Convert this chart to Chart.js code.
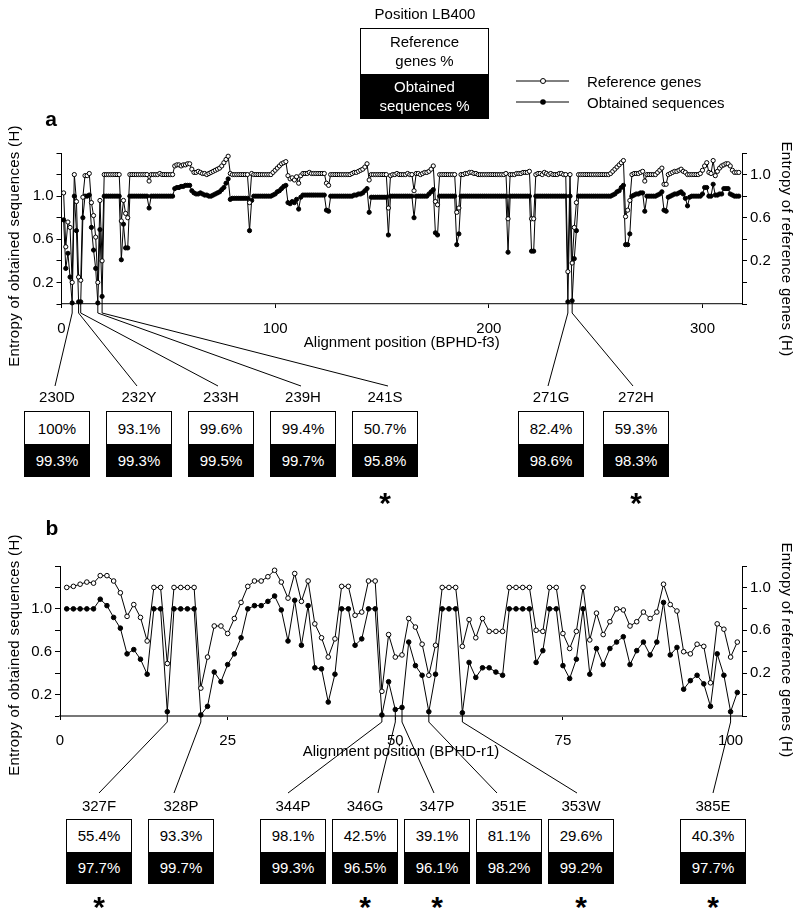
<!DOCTYPE html>
<html>
<head>
<meta charset="utf-8">
<script src="https://cdn.jsdelivr.net/npm/chart.js@4.4.1/dist/chart.umd.min.js"></script>
<style>
  body { margin: 0; background: #fff; }
  #page { position: relative; width: 800px; height: 911px; overflow: hidden; font-family: "Liberation Sans", Arial, Helvetica, sans-serif; color: #000; }
  canvas { position: absolute; left: 0; }
  .txt { position: absolute; font-size: 15px; white-space: nowrap; transform: translate(-50%, -50%); line-height: 1; }
  .ytitle { position: absolute; font-size: 15px; white-space: nowrap; letter-spacing: 0.3px; line-height: 1; }
  .box { position: absolute; width: 64px; border: 1px solid #000; background: #fff; }
  .box div { height: 50%; display: flex; align-items: center; justify-content: center; font-size: 15px; }
  .box .lo { background: #000; color: #fff; }
  .star { position: absolute; font-size: 30px; font-weight: bold; transform: translate(-50%, -50%); line-height: 1; }
  .panel { position: absolute; font-size: 21px; font-weight: bold; transform: translate(-50%, -50%); line-height: 1; }
  #hdr { position: absolute; left: 360px; top: 28px; width: 127px; height: 89px; border: 1px solid #000; }
  #hdr div { height: 50%; display: flex; align-items: center; justify-content: center; text-align: center; font-size: 15px; line-height: 19px; }
  #hdr .lo { background: #000; color: #fff; }
</style>
</head>
<body>
<div id="page">
  <canvas id="chartA" width="800" height="520" style="top:0"></canvas>
  <canvas id="chartB" width="800" height="300" style="top:520px"></canvas>

  <div class="txt" style="left:425px;top:13px">Position LB400</div>
  <div id="hdr"><div>Reference<br>genes %</div><div class="lo">Obtained<br>sequences %</div></div>
  <svg style="position:absolute;left:510px;top:70px" width="70" height="45">
    <line x1="6" y1="11" x2="59" y2="11" stroke="#000" stroke-width="1"/>
    <circle cx="33" cy="11" r="2.5" fill="#fff" stroke="#000" stroke-width="1"/>
    <line x1="6" y1="32" x2="59" y2="32" stroke="#000" stroke-width="1"/>
    <circle cx="33" cy="32" r="2.8" fill="#000"/>
  </svg>
  <div class="txt" style="left:587px;top:81px;transform:translate(0,-50%)">Reference genes</div>
  <div class="txt" style="left:587px;top:102px;transform:translate(0,-50%)">Obtained sequences</div>

  <div class="panel" style="left:51px;top:118px">a</div>
  <div class="panel" style="left:52px;top:527px">b</div>

  <div class="ytitle" style="left:12.5px;top:246px;transform:translate(-50%,-50%) rotate(-90deg)">Entropy of obtained sequences (H)</div>
  <div class="ytitle" style="left:787px;top:249px;transform:translate(-50%,-50%) rotate(90deg)">Entropy of reference genes (H)</div>
  <div class="ytitle" style="left:12.5px;top:655px;transform:translate(-50%,-50%) rotate(-90deg)">Entropy of obtained sequences (H)</div>
  <div class="ytitle" style="left:787px;top:650px;transform:translate(-50%,-50%) rotate(90deg)">Entropy of reference genes (H)</div>
</div>

<script>
const FONT = '"Liberation Sans", Arial, Helvetica, sans-serif';

// Panel a: entropy per alignment position (BPHD-f3), positions 1..317
const refA = [
  0.83,0.33,0.56,0.51,0.00,1.00,0.75,0.05,0.02,0.79,
  0.99,0.99,1.01,0.74,0.62,0.42,0.00,0.76,0.20,1.00,
  1.00,1.00,1.00,1.00,1.00,1.00,1.00,0.57,0.76,0.64,
  0.60,1.00,1.00,1.00,1.00,1.00,1.00,1.00,1.00,1.00,
  0.94,1.00,1.00,1.00,1.00,1.01,1.00,1.00,1.00,1.00,
  1.00,1.00,1.08,1.09,1.09,1.08,1.09,1.09,1.10,1.10,
  1.05,1.02,1.02,1.03,1.02,1.01,1.01,1.00,1.01,1.02,
  1.03,1.04,1.05,1.06,1.08,1.11,1.14,1.17,1.01,1.00,
  1.00,1.00,1.00,1.00,1.00,1.00,1.00,0.74,1.01,1.00,
  1.00,1.00,1.00,1.00,1.00,1.00,1.00,1.00,1.02,1.04,
  1.06,1.08,1.10,1.11,1.12,0.99,0.96,0.97,0.95,0.98,
  0.92,0.99,1.01,1.01,1.01,1.02,1.01,1.01,1.01,1.01,
  1.01,1.01,1.01,0.92,0.90,1.00,1.00,1.00,1.00,1.00,
  1.00,1.00,1.00,1.00,1.00,1.01,1.02,1.02,1.03,1.04,
  1.05,1.07,1.10,0.95,1.00,1.00,1.00,1.00,1.00,1.00,
  1.00,1.00,0.69,0.99,1.00,1.00,1.01,1.00,1.00,1.00,
  1.00,1.01,1.00,1.00,0.85,1.01,1.01,1.00,1.01,1.02,
  1.02,1.03,1.05,1.08,0.75,0.72,1.00,1.00,1.00,1.00,
  1.00,1.00,1.00,1.00,0.65,0.69,1.00,1.00,1.01,1.01,
  1.02,1.02,1.01,1.01,1.00,1.00,1.00,1.00,1.00,1.00,
  1.00,1.00,1.00,1.00,1.00,1.00,1.00,1.01,0.59,1.00,
  1.00,1.00,1.01,1.01,1.01,1.02,1.02,1.02,1.03,0.59,
  0.59,1.00,1.01,1.01,1.00,1.02,1.01,1.00,1.01,1.00,
  1.00,1.00,1.01,1.01,1.00,1.00,0.10,1.00,0.18,0.51,
  0.74,1.00,1.00,1.00,1.00,1.00,1.00,1.00,1.00,1.00,
  1.00,1.00,1.00,1.00,1.00,1.00,1.01,1.03,1.05,1.07,
  1.09,1.11,1.13,0.61,0.67,0.76,1.00,1.01,1.01,1.01,
  1.02,1.03,0.94,1.00,1.00,1.00,1.00,1.00,1.02,1.04,
  1.06,0.91,0.91,1.00,1.01,1.02,1.03,1.03,1.04,1.05,
  1.03,1.02,1.00,1.00,1.00,1.00,1.00,1.00,1.01,1.04,
  1.08,1.11,1.02,1.01,1.13,0.99,1.03,1.06,1.08,1.09,
  1.10,1.10,1.08,1.04,1.02,1.02,1.02
];
const obtA = [
  0.78,0.33,0.47,0.25,0.01,1.00,0.68,0.02,0.02,0.80,
  1.00,1.00,1.01,0.71,0.50,0.33,0.01,0.69,0.07,1.00,
  1.00,1.00,1.00,1.00,1.00,1.00,1.00,0.41,0.74,0.52,
  0.52,1.00,1.00,1.00,1.00,1.00,1.00,1.00,1.00,1.00,
  0.89,1.00,1.00,1.00,1.00,1.00,1.00,1.00,1.00,1.00,
  1.00,1.00,1.07,1.08,1.08,1.09,1.09,1.10,1.10,1.10,
  1.05,1.03,1.02,1.02,1.03,1.02,1.01,1.01,1.00,1.00,
  1.01,1.02,1.03,1.04,1.06,1.08,1.12,1.16,0.97,0.98,
  0.98,0.98,0.98,0.98,0.98,0.98,0.98,0.68,0.96,1.00,
  1.00,1.00,1.00,1.00,1.00,1.00,1.00,1.00,1.01,1.02,
  1.04,1.05,1.07,1.09,1.10,0.94,0.93,0.95,0.94,0.97,
  0.88,0.99,1.01,1.01,1.01,1.01,1.01,1.01,1.01,1.01,
  1.01,1.01,1.01,0.87,0.86,1.00,1.00,1.00,1.00,1.00,
  1.00,1.00,1.00,1.00,1.00,1.00,1.01,1.01,1.02,1.02,
  1.03,1.05,1.07,0.85,0.99,0.99,0.99,0.99,0.99,0.99,
  0.99,0.99,0.64,1.00,1.00,1.00,1.00,1.00,1.00,1.00,
  1.00,1.00,1.00,1.00,0.80,1.00,1.00,1.00,1.00,1.00,
  1.00,1.02,1.04,1.06,0.66,0.64,1.00,1.00,1.00,1.00,
  1.00,1.00,1.00,1.00,0.55,0.65,1.00,1.00,1.00,1.00,
  1.00,1.00,1.00,1.00,1.00,1.00,1.00,1.00,1.00,1.00,
  1.00,1.00,1.00,1.00,1.00,1.00,1.00,1.00,0.48,1.00,
  1.00,1.00,1.00,1.00,1.00,1.00,1.00,1.00,1.00,0.49,
  0.49,1.00,1.00,1.00,1.00,1.00,1.00,1.00,1.00,1.00,
  1.00,1.00,1.00,1.00,1.00,1.00,0.02,1.00,0.03,0.42,
  0.68,1.00,1.00,1.00,1.00,1.00,1.00,1.00,1.00,1.00,
  1.00,1.00,1.00,1.00,1.00,1.00,1.00,1.01,1.02,1.04,
  1.05,1.08,1.10,0.55,0.55,0.65,1.00,1.01,1.02,1.02,
  1.03,1.03,0.86,1.00,1.00,1.00,1.00,1.00,1.01,1.02,
  1.04,0.87,0.86,0.99,1.00,1.01,1.02,1.02,1.03,1.04,
  1.02,0.98,0.91,0.99,1.00,1.00,1.00,1.00,1.00,1.02,
  1.08,1.08,1.00,1.00,1.11,1.01,1.01,1.02,1.02,1.07,
  1.07,1.07,1.02,1.01,1.00,1.00,1.00
];

// Panel b: entropy per alignment position (BPHD-r1), positions 1..101
const refB = [
  1.00,1.01,1.03,1.05,1.04,1.11,1.11,1.06,0.95,0.73,
  0.84,0.72,0.50,1.00,1.00,0.29,1.00,1.00,1.00,1.00,
  0.06,0.35,0.64,0.64,0.57,0.71,0.86,1.01,1.06,1.06,
  1.10,1.16,1.05,0.90,1.13,0.87,1.06,0.66,0.53,0.35,
  0.52,1.01,1.01,0.74,0.77,1.06,1.06,0.03,0.56,0.35,
  0.37,0.71,0.63,0.47,0.18,0.46,1.00,1.00,1.00,0.45,
  0.70,0.53,0.71,0.59,0.59,0.59,1.00,1.00,1.00,1.00,
  0.60,0.59,1.00,1.00,0.57,0.43,0.59,1.00,0.51,0.76,
  0.56,0.68,0.80,0.79,0.64,0.68,0.77,0.71,0.77,1.03,
  0.84,0.78,0.40,0.38,0.47,0.45,0.11,0.66,0.61,0.35,
  0.49
];
const obtB = [
  1.00,1.00,1.00,1.00,1.00,1.09,1.03,0.92,0.82,0.58,
  0.62,0.53,0.39,1.00,1.00,0.04,1.00,1.00,1.00,1.00,
  0.01,0.09,0.41,0.32,0.48,0.58,0.73,1.00,1.03,1.03,
  1.07,1.12,0.99,0.70,1.08,0.66,1.03,0.45,0.44,0.13,
  0.39,1.00,1.00,0.66,0.72,1.00,1.00,0.01,0.32,0.06,
  0.08,0.69,0.47,0.38,0.04,0.39,1.00,1.00,1.00,0.03,
  0.50,0.36,0.45,0.45,0.41,0.38,1.00,1.00,1.00,1.00,
  0.50,0.61,1.00,1.00,0.47,0.35,0.53,1.00,0.39,0.63,
  0.48,0.63,0.69,0.74,0.48,0.61,0.69,0.57,0.69,1.06,
  0.57,0.64,0.25,0.33,0.38,0.30,0.09,0.58,0.38,0.04,
  0.22
];

// LB400 residues marked under each panel
const sitesA = ['230D','232Y','233H','239H','241S','271G','272H'];
const sitePosA = [5, 8, 9, 17, 19, 237, 239];
const refPctA = [100, 93.1, 99.6, 99.4, 50.7, 82.4, 59.3];
const obtPctA = [99.3, 99.3, 99.5, 99.7, 95.8, 98.6, 98.3];
const starA = [false, false, false, false, true, false, true];

const sitesB = ['327F','328P','344P','346G','347P','351E','353W','385E'];
const sitePosB = [16, 21, 48, 50, 51, 55, 60, 100];
const refPctB = [55.4, 93.3, 98.1, 42.5, 39.1, 81.1, 29.6, 40.3];
const obtPctB = [97.7, 99.7, 99.3, 96.5, 96.1, 98.2, 99.2, 97.7];
const starB = [true, false, false, true, true, false, true, true];

// layout of the boxes under the plots
const boxXA = [57, 139, 221, 303, 385, 551, 636];
const lineEndA = [55, 137, 218, 301, 388, 548, 633];
const boxXB = [99, 181, 293, 365, 437, 509, 581, 713];
const lineEndB = [99, 174, 288, 378, 434, 497, 577, 713];

// lines from the marked positions down to the boxes
const connectorPlugin = {
  id: 'connectors',
  afterDraw(chart, args, opts) {
    const { ctx, chartArea, scales } = chart;
    ctx.save();
    ctx.strokeStyle = '#000';
    ctx.lineWidth = 1;
    opts.pos.forEach((p, i) => {
      const px = scales.x.getPixelForValue(p);
      const py = scales.y.getPixelForValue(opts.values[p - 1]);
      ctx.beginPath();
      ctx.moveTo(px, py);
      ctx.lineTo(px, chartArea.bottom + opts.drop);
      ctx.lineTo(opts.endX[i], opts.endY);
      ctx.stroke();
    });
    ctx.restore();
  }
};

function tickLabel(v) {
  return [0.2, 0.6, 1.0].some(t => Math.abs(v - t) < 1e-6) ? v.toFixed(1) : '';
}

function makePanel(id, c) {
  const xs = c.ref.map((_, i) => i + 1);
  const yAxis = (pos, min, max, width) => ({
    position: pos, min: min, max: max,
    border: { color: '#000', width: 1 },
    grid: { drawOnChartArea: false, color: '#000', tickLength: 5 },
    ticks: { stepSize: 0.2, color: '#000', padding: 3, font: { family: FONT, size: 15 }, callback: tickLabel },
    afterFit: s => { s.width = width; }
  });
  return new Chart(document.getElementById(id), {
    type: 'line',
    data: {
      datasets: [
        {
          label: 'Reference genes',
          data: xs.map((x, i) => ({ x: x, y: c.ref[i] })),
          yAxisID: 'y2',
          borderColor: '#000', borderWidth: 1,
          pointRadius: c.r, pointBackgroundColor: '#fff', pointBorderColor: '#000', pointBorderWidth: 1,
          clip: 8
        },
        {
          label: 'Obtained sequences',
          data: xs.map((x, i) => ({ x: x, y: c.obt[i] })),
          yAxisID: 'y',
          borderColor: '#000', borderWidth: 1,
          pointRadius: c.r, pointBackgroundColor: '#000', pointBorderColor: '#000', pointBorderWidth: 1,
          clip: 8
        }
      ]
    },
    options: {
      responsive: false,
      animation: false,
      devicePixelRatio: 1,
      layout: { padding: { top: c.padTop, bottom: c.padBottom, left: 0, right: 0 } },
      plugins: {
        legend: { display: false },
        tooltip: { enabled: false },
        connectors: { pos: c.sites, values: c.obt, endX: c.endX, endY: c.endY, drop: c.drop }
      },
      scales: {
        x: {
          type: 'linear', min: 0, max: c.xMax,
          border: { color: c.axisColor, width: c.axisWidth },
          grid: { drawOnChartArea: false, color: '#000', tickLength: 4 },
          ticks: { stepSize: c.xStep, includeBounds: false, autoSkip: false, maxRotation: 0, color: '#000', padding: c.tickPad, font: { family: FONT, size: 15 } },
          title: { display: true, text: c.xTitle, color: '#000', font: { family: FONT, size: 15 }, padding: { top: 0, bottom: c.titlePad } },
          afterFit: s => { s.height = c.xHeight; }
        },
        y: yAxis('left', 0, 1.4, c.leftW),
        y2: yAxis('right', -0.2, 1.2, 58)
      }
    },
    plugins: [connectorPlugin]
  });
}

makePanel('chartA', {
  ref: refA, obt: obtA, r: 2.1, xMax: 318.5, xStep: 100, xTitle: 'Alignment position (BPHD-f3)',
  padTop: 153, padBottom: 166, xHeight: 50, leftW: 61.5, tickPad: 12, titlePad: 2,
  axisColor: '#333', axisWidth: 1.2,
  sites: sitePosA, endX: lineEndA, endY: 386, drop: 9
});
makePanel('chartB', {
  ref: refB, obt: obtB, r: 2.3, xMax: 101.7, xStep: 25, xTitle: 'Alignment position (BPHD-r1)',
  padTop: 46, padBottom: 58, xHeight: 46, leftW: 60, tickPad: 12, titlePad: 1,
  axisColor: '#777', axisWidth: 2,
  sites: sitePosB, endX: lineEndB, endY: 273, drop: 6
});

// label + percentage boxes
function addBoxes(names, refPct, obtPct, stars, xsCenter, labelY, boxTop, boxH, starY) {
  const page = document.getElementById('page');
  names.forEach((n, i) => {
    const lab = document.createElement('div');
    lab.className = 'txt';
    lab.style.left = xsCenter[i] + 'px';
    lab.style.top = labelY + 'px';
    lab.textContent = n;
    page.appendChild(lab);

    const box = document.createElement('div');
    box.className = 'box';
    box.style.left = (xsCenter[i] - 33) + 'px';
    box.style.top = boxTop + 'px';
    box.style.height = boxH + 'px';
    box.innerHTML = '<div>' + refPct[i] + '%</div><div class="lo">' + obtPct[i] + '%</div>';
    page.appendChild(box);

    if (stars[i]) {
      const s = document.createElement('div');
      s.className = 'star';
      s.style.left = xsCenter[i] + 'px';
      s.style.top = starY + 'px';
      s.textContent = '*';
      page.appendChild(s);
    }
  });
}
addBoxes(sitesA, refPctA, obtPctA, starA, boxXA, 396, 411, 64, 503);
addBoxes(sitesB, refPctB, obtPctB, starB, boxXB, 805, 819, 63, 907);
</script>
</body>
</html>
